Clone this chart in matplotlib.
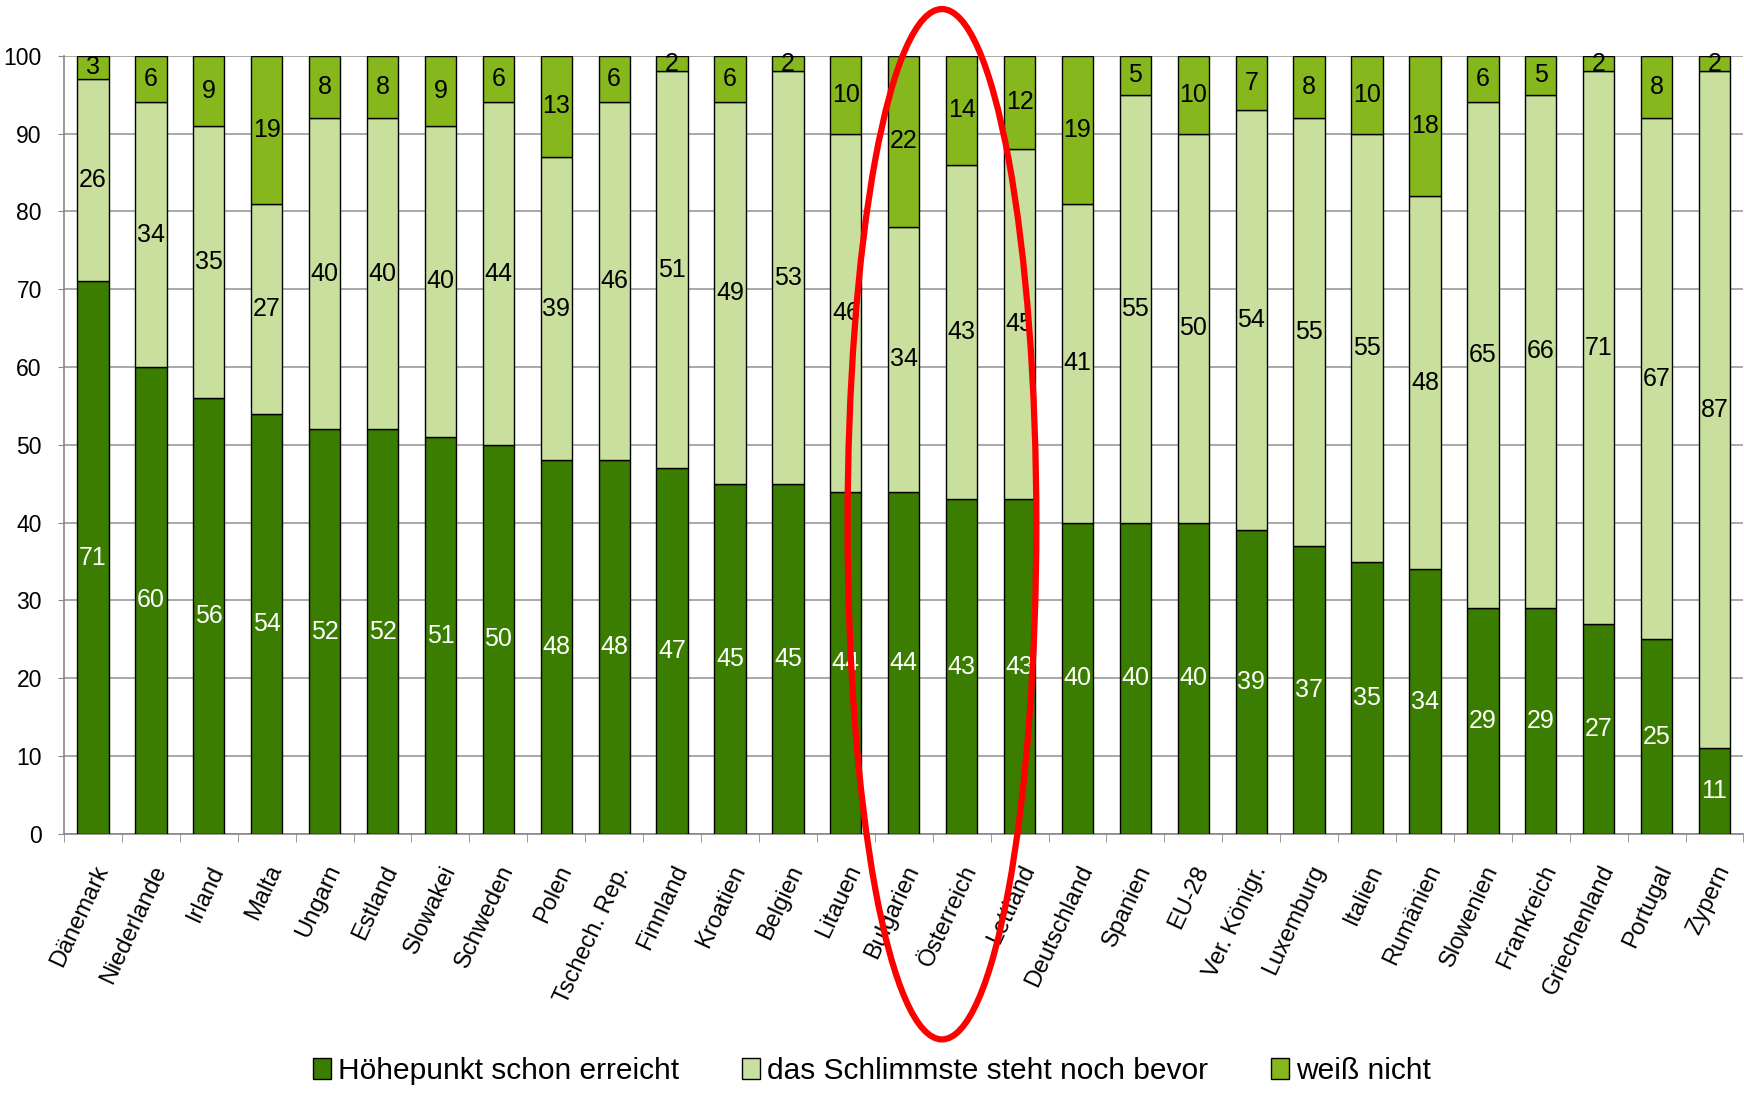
import numpy as np
import matplotlib.pyplot as plt
from matplotlib.patches import Ellipse

# =========================
# DATA
# =========================
countries = ["Dänemark", "Niederlande", "Irland", "Malta", "Ungarn", "Estland",
             "Slowakei", "Schweden", "Polen", "Tschech. Rep.", "Finnland",
             "Kroatien", "Belgien", "Litauen", "Bulgarien", "Österreich",
             "Lettland", "Deutschland", "Spanien", "EU-28", "Ver. Königr.",
             "Luxemburg", "Italien", "Rumänien", "Slowenien", "Frankreich",
             "Griechenland", "Portugal", "Zypern"]
peak = [71, 60, 56, 54, 52, 52, 51, 50, 48, 48, 47, 45, 45, 44, 44, 43, 43,
        40, 40, 40, 39, 37, 35, 34, 29, 29, 27, 25, 11]
worst = [26, 34, 35, 27, 40, 40, 40, 44, 39, 46, 51, 49, 53, 46, 34, 43, 45,
         41, 55, 50, 54, 55, 55, 48, 65, 66, 71, 67, 87]
dunno = [3, 6, 9, 19, 8, 8, 9, 6, 13, 6, 2, 6, 2, 10, 22, 14, 12, 19, 5, 10,
         7, 8, 10, 18, 6, 5, 2, 8, 2]
series_names = ["Höhepunkt schon erreicht", "das Schlimmste steht noch bevor",
                "weiß nicht"]

# =========================
# STYLE
# =========================
C_DARK = "#3a7d00"
C_LIGHT = "#c8df9d"
C_MID = "#86b71c"
plt.rcParams["font.family"] = ["Liberation Sans", "DejaVu Sans"]

fig = plt.figure(figsize=(17.44, 10.93), dpi=100)
ax = fig.add_axes([0.0367, 0.237, 0.963, 0.712])

x = np.arange(len(countries))
w = 0.54
peak = np.array(peak)
worst = np.array(worst)
dunno = np.array(dunno)

layers = [(peak, np.zeros_like(peak), C_DARK, "white"),
          (worst, peak, C_LIGHT, "black"),
          (dunno, peak + worst, C_MID, "black")]
for (vals, bottom, col, tcol), name in zip(layers, series_names):
    ax.bar(x, vals, w, bottom=bottom, color=col, edgecolor="black",
           linewidth=1.0, label=name, zorder=3)
    for xi, v, b in zip(x, vals, bottom):
        ax.text(xi, b + v / 2, str(v), ha="center", va="center",
                fontsize=18, color=tcol, zorder=4)

ax.set_xlim(-0.5, len(countries) - 0.5)
ax.set_ylim(0, 100)
ax.set_yticks(range(0, 101, 10))
ax.tick_params(axis="y", labelsize=16.5, length=4, color="#888888", pad=12)
ax.set_xticks(x)
ax.set_xticklabels(countries, rotation=65, ha="right", rotation_mode="anchor",
                   fontsize=17)
ax.tick_params(axis="x", length=0, pad=20)
ax.set_xticks(np.arange(-0.5, len(countries), 1), minor=True)
ax.tick_params(axis="x", which="minor", length=6, color="#888888")
ax.grid(axis="y", color="#999999", linewidth=1.2, zorder=0)
for s in ["top", "right"]:
    ax.spines[s].set_visible(False)
ax.spines["left"].set_color("#888888")
ax.spines["bottom"].set_color("#888888")
ax.spines["left"].set_linewidth(1.2)
ax.spines["bottom"].set_linewidth(1.2)

# red marker ellipse around Austria
ell = Ellipse((14.66, 39.8), 3.26, 132.4, fill=False, edgecolor="red",
              linewidth=4.5, clip_on=False, zorder=5)
ax.add_patch(ell)

fig.legend(loc="lower center", bbox_to_anchor=(0.5, -0.012), ncol=3,
           frameon=False, handlelength=0.6, handleheight=0.7,
           handletextpad=0.25, columnspacing=2.1, borderaxespad=0.3,
           prop={"size": 21.5})

fig.savefig("out.png", dpi=100)
